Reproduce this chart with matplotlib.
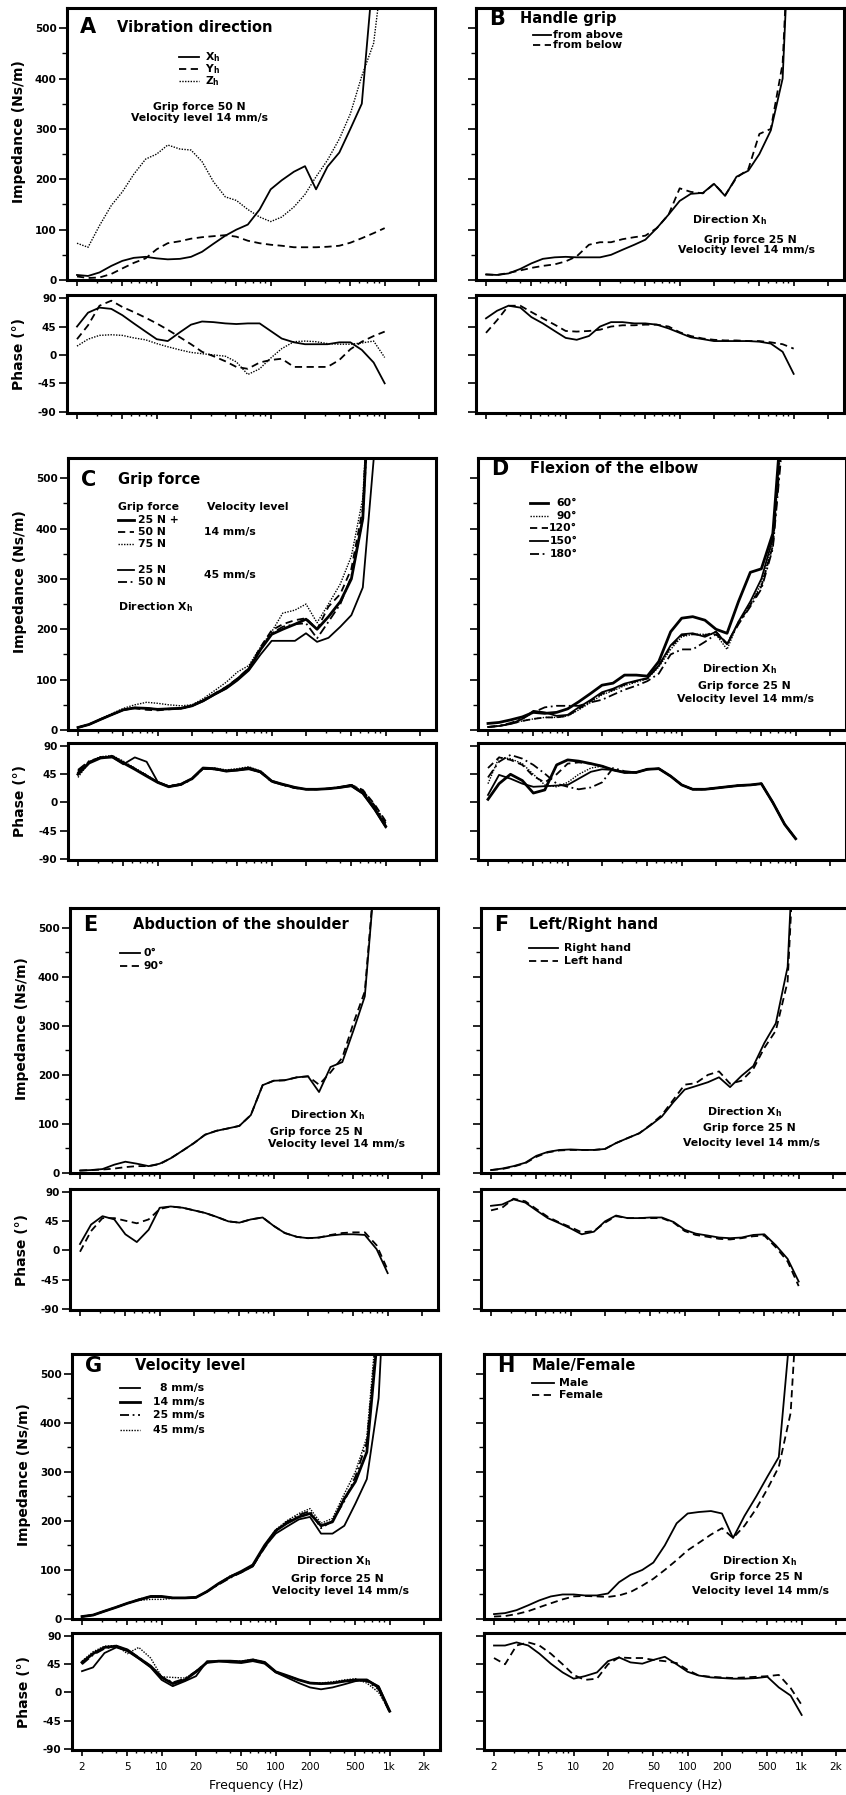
import numpy as np
import matplotlib
matplotlib.use('Agg')
import matplotlib.pyplot as plt
from matplotlib.ticker import FixedLocator, NullFormatter

plt.rcParams['font.family'] = ['DejaVu Sans']
plt.rcParams['mathtext.fontset'] = 'custom'
plt.rcParams['mathtext.rm'] = 'DejaVu Sans:bold'
plt.rcParams['mathtext.default'] = 'rm'

# third-octave frequencies (Hz)
freq = [2, 2.5, 3.15, 4, 5, 6.3, 8, 10, 12.5, 16, 20, 25, 31.5, 40, 50, 63,
        80, 100, 125, 160, 200, 250, 315, 400, 500, 630, 800, 1000]

# A  vibration direction
a_imp_x = [10, 8, 15, 28, 38, 44, 46, 43, 41, 42, 46, 56, 72, 88, 100, 110, 140, 180, 198, 215, 226, 180, 225, 253, 300, 350, 620, 1200]
a_imp_y = [7, 4, 5, 12, 23, 34, 43, 61, 73, 77, 82, 85, 87, 89, 86, 78, 73, 70, 68, 65, 65, 65, 66, 68, 74, 83, 93, 103]
a_imp_z = [73, 65, 108, 148, 175, 210, 240, 250, 268, 260, 258, 235, 195, 165, 158, 140, 125, 116, 125, 145, 170, 205, 238, 280, 330, 405, 470, 650]
a_ph_x = [45, 67, 75, 73, 63, 50, 37, 25, 22, 36, 48, 53, 52, 50, 49, 50, 50, 38, 26, 20, 17, 17, 17, 20, 20, 8, -12, -45]
a_ph_y = [25, 47, 78, 86, 76, 68, 59, 50, 40, 28, 17, 5, -2, -10, -19, -22, -12, -8, -6, -19, -19, -19, -19, -8, 9, 21, 30, 37]
a_ph_z = [14, 25, 31, 32, 31, 27, 24, 18, 13, 8, 4, 2, 0, -2, -11, -31, -22, -5, 10, 21, 22, 21, 18, 17, 17, 19, 22, -4]

# B  handle grip
b_imp_above = [11, 10, 13, 22, 33, 42, 45, 46, 45, 45, 45, 50, 60, 70, 80, 103, 130, 157, 171, 173, 191, 167, 205, 217, 250, 297, 400, 900]
b_imp_below = [11, 10, 14, 19, 24, 28, 31, 37, 47, 70, 75, 75, 81, 85, 88, 103, 130, 182, 175, 172, 191, 168, 203, 220, 290, 300, 430, 900]
b_ph_above = [58, 70, 78, 75, 60, 50, 38, 27, 24, 30, 45, 52, 52, 50, 50, 48, 42, 35, 28, 25, 22, 22, 22, 22, 21, 18, 5, -30]
b_ph_below = [35, 55, 78, 78, 68, 58, 48, 38, 37, 38, 40, 45, 47, 47, 48, 48, 45, 36, 30, 26, 24, 23, 23, 22, 22, 20, 17, 10]

# C  grip force
c_imp_25 = [5, 11, 21, 31, 40, 44, 43, 41, 42, 43, 48, 58, 71, 84, 101, 121, 160, 190, 200, 210, 220, 200, 225, 255, 300, 420, 900, 1400]
c_imp_50 = [5, 11, 21, 31, 40, 43, 40, 39, 41, 43, 48, 58, 72, 86, 102, 123, 165, 198, 210, 218, 222, 200, 245, 270, 320, 440, 900, 1400]
c_imp_75 = [5, 11, 22, 33, 43, 50, 55, 53, 50, 48, 50, 62, 78, 95, 115, 128, 165, 195, 232, 238, 250, 213, 250, 290, 345, 460, 900, 1400]
c_imp_25b = [5, 11, 21, 31, 40, 44, 43, 41, 42, 43, 48, 57, 70, 82, 98, 118, 150, 177, 177, 177, 192, 175, 183, 205, 228, 283, 560, 1000]
c_imp_50b = [5, 11, 21, 31, 40, 44, 43, 41, 42, 43, 48, 58, 71, 84, 101, 121, 160, 192, 205, 210, 212, 182, 215, 250, 305, 420, 850, 1400]
c_ph_25 = [45, 63, 71, 73, 63, 53, 42, 32, 25, 29, 38, 55, 54, 50, 52, 55, 49, 34, 29, 24, 21, 21, 22, 24, 27, 15, -10, -38]
c_ph_50 = [50, 65, 72, 74, 64, 54, 43, 32, 26, 29, 38, 54, 53, 51, 52, 54, 48, 34, 28, 23, 21, 21, 22, 25, 28, 20, -3, -30]
c_ph_75 = [40, 64, 73, 75, 66, 55, 44, 33, 26, 30, 38, 54, 55, 52, 54, 57, 50, 35, 29, 24, 21, 21, 22, 24, 27, 18, -5, -35]
c_ph_25b = [48, 64, 72, 72, 61, 72, 65, 33, 26, 29, 38, 54, 53, 50, 51, 53, 48, 34, 29, 24, 21, 21, 22, 24, 26, 14, -12, -40]
c_ph_50b = [52, 66, 72, 74, 64, 54, 43, 32, 25, 28, 37, 54, 53, 50, 52, 55, 48, 33, 28, 23, 21, 21, 22, 25, 28, 19, -5, -33]

# D  flexion of the elbow
d_imp_60 = [13, 15, 20, 26, 35, 33, 35, 42, 56, 73, 89, 93, 109, 109, 107, 136, 195, 222, 225, 218, 200, 192, 255, 313, 320, 390, 700, 1300]
d_imp_90 = [6, 8, 12, 18, 22, 25, 25, 28, 40, 55, 70, 78, 88, 95, 102, 125, 160, 185, 190, 190, 190, 160, 215, 250, 290, 370, 650, 1200]
d_imp_120 = [6, 8, 12, 18, 22, 25, 25, 28, 42, 58, 72, 80, 90, 97, 102, 128, 165, 188, 190, 188, 195, 172, 212, 248, 285, 365, 640, 1200]
d_imp_150 = [6, 8, 12, 22, 38, 35, 28, 30, 45, 60, 75, 82, 92, 98, 103, 128, 168, 190, 192, 185, 195, 170, 215, 255, 300, 380, 680, 1200]
d_imp_180 = [6, 8, 14, 22, 35, 45, 48, 48, 48, 55, 60, 70, 80, 88, 97, 112, 150, 160, 160, 175, 190, 170, 210, 245, 280, 360, 620, 1200]
d_ph_60 = [5, 30, 45, 35, 15, 20, 60, 68, 66, 62, 58, 52, 48, 48, 53, 54, 42, 28, 21, 21, 23, 25, 27, 28, 30, 0, -35, -58]
d_ph_90 = [30, 72, 70, 62, 45, 28, 25, 32, 45, 55, 58, 52, 48, 48, 53, 54, 42, 28, 21, 21, 23, 25, 27, 28, 30, 0, -35, -58]
d_ph_120 = [55, 72, 68, 60, 42, 32, 45, 62, 64, 62, 58, 52, 48, 48, 53, 54, 42, 28, 21, 21, 23, 25, 27, 28, 30, 0, -35, -58]
d_ph_150 = [12, 44, 38, 30, 25, 26, 27, 28, 38, 49, 53, 52, 48, 48, 53, 54, 42, 28, 21, 21, 23, 25, 27, 28, 30, 0, -35, -58]
d_ph_180 = [40, 65, 76, 70, 60, 46, 30, 25, 21, 24, 32, 55, 50, 48, 53, 54, 42, 28, 21, 21, 23, 25, 27, 28, 30, 0, -35, -58]

# E  abduction of the shoulder
e_imp_0 = [5, 6, 8, 17, 23, 19, 14, 19, 30, 46, 61, 78, 86, 91, 96, 118, 179, 188, 189, 195, 197, 165, 216, 226, 290, 360, 650, 1200]
e_imp_90 = [5, 6, 7, 9, 12, 14, 14, 18, 30, 46, 61, 78, 86, 91, 96, 118, 179, 188, 189, 195, 197, 180, 205, 235, 305, 370, 660, 1200]
e_ph_0 = [10, 40, 53, 48, 25, 13, 32, 66, 68, 66, 62, 58, 52, 45, 43, 48, 51, 38, 27, 21, 19, 20, 23, 25, 25, 24, 2, -35]
e_ph_90 = [-2, 30, 50, 50, 46, 42, 48, 64, 68, 66, 62, 58, 52, 45, 43, 48, 51, 38, 27, 21, 19, 20, 24, 27, 28, 28, 8, -30]

# F  left/right hand
f_imp_r = [6, 9, 14, 21, 35, 43, 47, 48, 47, 47, 49, 61, 71, 81, 97, 115, 145, 170, 177, 185, 195, 175, 198, 218, 265, 305, 420, 900]
f_imp_l = [6, 8, 13, 20, 33, 42, 46, 47, 47, 47, 49, 61, 71, 81, 98, 118, 150, 180, 183, 200, 207, 182, 188, 212, 255, 290, 390, 850]
f_ph_r = [69, 71, 79, 74, 62, 50, 42, 34, 25, 29, 45, 54, 50, 50, 51, 51, 44, 32, 26, 23, 20, 19, 20, 24, 25, 8, -13, -48]
f_ph_l = [62, 66, 80, 76, 64, 52, 43, 36, 28, 30, 43, 53, 50, 50, 50, 50, 43, 30, 24, 21, 18, 17, 19, 22, 23, 5, -17, -55]

# G  velocity level
g_imp_8 = [5, 8, 16, 24, 32, 39, 45, 45, 43, 43, 44, 56, 72, 86, 95, 107, 147, 174, 188, 203, 208, 174, 174, 190, 235, 285, 450, 900]
g_imp_14 = [5, 8, 16, 24, 32, 39, 46, 46, 43, 43, 44, 56, 72, 86, 97, 110, 150, 180, 195, 208, 215, 190, 198, 245, 280, 340, 600, 1200]
g_imp_25 = [5, 8, 16, 24, 32, 40, 46, 45, 43, 43, 44, 56, 70, 84, 95, 108, 145, 178, 198, 212, 220, 185, 200, 240, 290, 360, 620, 1200]
g_imp_45 = [5, 8, 16, 24, 32, 38, 40, 40, 42, 43, 44, 56, 72, 88, 97, 110, 150, 182, 200, 215, 225, 195, 205, 255, 300, 370, 650, 1200]
g_ph_8 = [34, 40, 63, 72, 66, 54, 40, 20, 10, 18, 26, 50, 50, 48, 47, 50, 46, 32, 24, 15, 8, 5, 8, 13, 18, 20, 10, -30]
g_ph_14 = [48, 62, 72, 74, 68, 55, 42, 24, 14, 20, 33, 48, 50, 50, 49, 52, 48, 33, 27, 20, 15, 14, 15, 18, 20, 20, 8, -30]
g_ph_25 = [45, 60, 70, 74, 68, 56, 42, 25, 16, 22, 34, 48, 50, 50, 49, 52, 48, 33, 27, 20, 15, 14, 15, 18, 20, 18, 5, -32]
g_ph_45 = [50, 65, 74, 75, 62, 72, 55, 25, 24, 23, 32, 48, 50, 50, 50, 53, 48, 33, 27, 20, 15, 15, 17, 20, 22, 15, 0, -30]

# H  male/female
h_imp_m = [10, 12, 18, 28, 38, 46, 50, 50, 48, 48, 52, 75, 90, 100, 115, 150, 195, 215, 218, 220, 215, 165, 210, 250, 290, 330, 600, 1200]
h_imp_f = [5, 6, 10, 16, 24, 32, 40, 46, 47, 46, 45, 48, 55, 68, 82, 100, 120, 140, 155, 172, 185, 165, 190, 225, 265, 310, 420, 800]
h_ph_m = [75, 75, 80, 75, 62, 46, 32, 22, 26, 32, 50, 56, 48, 46, 52, 57, 45, 33, 27, 24, 23, 22, 22, 23, 25, 8, -5, -36]
h_ph_f = [55, 45, 75, 80, 75, 62, 45, 28, 20, 22, 45, 56, 55, 55, 52, 50, 47, 36, 27, 25, 24, 23, 24, 25, 26, 28, 7, -20]

xticks = [2, 5, 10, 20, 50, 100, 200, 500, 1000, 2000]
xticklabels = ['2', '5', '10', '20', '50', '100', '200', '500', '1k', '2k']

SOLID = dict(ls='-', lw=1.3)
THICK = dict(ls='-', lw=2.0)
DASH = dict(ls=(0, (4, 2.5)), lw=1.3)
DOT = dict(ls=(0, (1, 1)), lw=1.0)
DASHDOT = dict(ls=(0, (5, 2, 1, 2)), lw=1.3)

W, H = 846, 1795
AW = 368
# impedance top, impedance height, phase top, phase height (pixels)
rows = [(8, 272, 295, 118), (458, 272, 743, 117), (908, 265, 1189, 121), (1354, 265, 1633, 117)]
lefts = [(67, 476), (68, 478), (70, 481), (72, 484)]
xlim = (2 * 10 ** (-10 / 114), 2 * 10 ** ((AW - 10) / 114))

fig = plt.figure(figsize=(W / 100, H / 100), dpi=100)


def style_axis(a):
    a.set_xscale('log')
    a.set_xlim(xlim)
    a.xaxis.set_major_locator(FixedLocator(xticks))
    minor = [m * 10 ** e for e in range(0, 4) for m in range(1, 10)]
    a.xaxis.set_minor_locator(FixedLocator(minor))
    a.xaxis.set_minor_formatter(NullFormatter())
    a.tick_params(which='major', direction='out', length=4, width=1.2, top=False, right=False)
    a.tick_params(which='minor', direction='out', length=2.5, width=1.0, top=False, right=False)
    a.tick_params(axis='y', which='major', length=6, labelsize=7.5, pad=1.5)
    a.tick_params(axis='y', which='minor', length=3.5)
    for s in a.spines.values():
        s.set_linewidth(2.2)


def make_pair(row, col):
    x0 = lefts[row][col]
    top, h, ptop, ph = rows[row]
    ax = fig.add_axes([x0 / W, 1 - (top + h) / H, AW / W, h / H])
    axp = fig.add_axes([x0 / W, 1 - (ptop + ph) / H, AW / W, ph / H])
    ax.set_ylim(0, 540)
    ax.set_yticks(range(0, 501, 100))
    ax.set_yticks(range(50, 540, 100), minor=True)
    axp.set_ylim(-92, 95)
    axp.set_yticks([-90, -45, 0, 45, 90])
    style_axis(ax)
    style_axis(axp)
    ax.set_xticklabels([])
    if row == 3:
        axp.set_xticklabels(xticklabels, fontsize=7.5)
        axp.tick_params(axis='x', pad=5)
    else:
        axp.set_xticklabels([])
    if col == 0:
        ax.set_yticklabels([str(v) for v in range(0, 501, 100)], fontweight='bold')
        axp.set_yticklabels(['-90', '-45', '0', '45', '90'], fontweight='bold')
        ax.set_ylabel('Impedance (Ns/m)', fontsize=10, fontweight='bold')
        ax.yaxis.set_label_coords(-0.111, 0.545)
        axp.set_ylabel('Phase (°)', fontsize=10, fontweight='bold')
        axp.yaxis.set_label_coords(-0.111, 0.5)
    else:
        ax.set_yticklabels([])
        axp.set_yticklabels([])
    return ax, axp


def draw(ax, axp, curves):
    for imp, ph, st in curves:
        ax.plot(freq, imp, color='k', **st)
        axp.plot(freq, ph, color='k', **st)


def txt(ax, x, y, s, size=7.8, ha='left', weight='bold'):
    ax.text(x, y, s, transform=ax.transAxes, fontsize=size, ha=ha, va='center',
            fontweight=weight)


def head(ax, y, letter, title, xl=0.035, xt=0.135):
    txt(ax, xl, y, letter, size=15)
    txt(ax, xt, y, title, size=10.5)


def leg(ax, x0, x1, y, st):
    ax.plot([x0, x1], [y, y], transform=ax.transAxes, color='k', **st)


def std_note(ax, xs, ys):
    txt(ax, xs[0], ys[0], 'Direction X$_h$', ha='center')
    txt(ax, xs[1], ys[1], 'Grip force 25 N', ha='center')
    txt(ax, xs[2], ys[2], 'Velocity level 14 mm/s', ha='center')


# A
ax, axp = make_pair(0, 0)
draw(ax, axp, [(a_imp_x, a_ph_x, SOLID), (a_imp_y, a_ph_y, DASH), (a_imp_z, a_ph_z, DOT)])
head(ax, 0.93, 'A', 'Vibration direction')
for y, st, s in [(0.82, SOLID, 'X$_h$'), (0.775, DASH, 'Y$_h$'), (0.73, DOT, 'Z$_h$')]:
    leg(ax, 0.305, 0.36, y, st)
    txt(ax, 0.375, y, s)
txt(ax, 0.36, 0.636, 'Grip force 50 N', ha='center')
txt(ax, 0.36, 0.595, 'Velocity level 14 mm/s', ha='center')

# B
ax, axp = make_pair(0, 1)
draw(ax, axp, [(b_imp_above, b_ph_above, SOLID), (b_imp_below, b_ph_below, DASH)])
head(ax, 0.96, 'B', 'Handle grip', xt=0.12)
for y, st, s in [(0.90, SOLID, 'from above'), (0.864, DASH, 'from below')]:
    leg(ax, 0.155, 0.205, y, st)
    txt(ax, 0.21, y, s)
std_note(ax, (0.69, 0.745, 0.735), (0.22, 0.147, 0.11))

# C
ax, axp = make_pair(1, 0)
draw(ax, axp, [(c_imp_25, c_ph_25, THICK), (c_imp_50, c_ph_50, DASH), (c_imp_75, c_ph_75, DOT),
               (c_imp_25b, c_ph_25b, SOLID), (c_imp_50b, c_ph_50b, DASHDOT)])
head(ax, 0.92, 'C', 'Grip force')
txt(ax, 0.136, 0.82, 'Grip force')
txt(ax, 0.378, 0.82, 'Velocity level')
for y, st, s in [(0.772, THICK, '25 N +'), (0.728, DASH, '50 N'), (0.684, DOT, '75 N'),
                 (0.588, SOLID, '25 N'), (0.544, DASHDOT, '50 N')]:
    leg(ax, 0.136, 0.178, y, st)
    txt(ax, 0.19, y, s)
txt(ax, 0.37, 0.728, '14 mm/s')
txt(ax, 0.37, 0.57, '45 mm/s')
txt(ax, 0.136, 0.45, 'Direction X$_h$')

# D
ax, axp = make_pair(1, 1)
draw(ax, axp, [(d_imp_60, d_ph_60, THICK), (d_imp_90, d_ph_90, DOT), (d_imp_120, d_ph_120, DASH),
               (d_imp_150, d_ph_150, SOLID), (d_imp_180, d_ph_180, DASHDOT)])
head(ax, 0.96, 'D', 'Flexion of the elbow', xt=0.14)
for y, st, s in [(0.835, THICK, '60°'), (0.787, DOT, '90°'), (0.743, DASH, '120°'),
                 (0.695, SOLID, '150°'), (0.647, DASHDOT, '180°')]:
    leg(ax, 0.14, 0.19, y, st)
    txt(ax, 0.27, y, s, ha='right')
std_note(ax, (0.71, 0.725, 0.728), (0.224, 0.16, 0.114))

# E
ax, axp = make_pair(2, 0)
draw(ax, axp, [(e_imp_0, e_ph_0, SOLID), (e_imp_90, e_ph_90, DASH)])
head(ax, 0.936, 'E', 'Abduction of the shoulder', xt=0.17)
for y, st, s in [(0.83, SOLID, '0°'), (0.78, DASH, '90°')]:
    leg(ax, 0.136, 0.19, y, st)
    txt(ax, 0.2, y, s)
std_note(ax, (0.70, 0.67, 0.725), (0.22, 0.155, 0.11))

# F
ax, axp = make_pair(2, 1)
draw(ax, axp, [(f_imp_r, f_ph_r, SOLID), (f_imp_l, f_ph_l, DASH)])
head(ax, 0.936, 'F', 'Left/Right hand', xt=0.13)
for y, st, s in [(0.85, SOLID, 'Right hand'), (0.80, DASH, 'Left hand')]:
    leg(ax, 0.13, 0.21, y, st)
    txt(ax, 0.225, y, s)
std_note(ax, (0.715, 0.73, 0.735), (0.23, 0.17, 0.113))

# G
ax, axp = make_pair(3, 0)
draw(ax, axp, [(g_imp_8, g_ph_8, SOLID), (g_imp_14, g_ph_14, THICK), (g_imp_25, g_ph_25, DASHDOT),
               (g_imp_45, g_ph_45, DOT)])
head(ax, 0.955, 'G', 'Velocity level', xt=0.17)
for y, st, s in [(0.87, SOLID, '8 mm/s'), (0.82, THICK, '14 mm/s'), (0.77, DASHDOT, '25 mm/s'),
                 (0.715, DOT, '45 mm/s')]:
    leg(ax, 0.13, 0.185, y, st)
    txt(ax, 0.36, y, s, ha='right')
std_note(ax, (0.71, 0.72, 0.73), (0.22, 0.15, 0.106))

# H
ax, axp = make_pair(3, 1)
draw(ax, axp, [(h_imp_m, h_ph_m, SOLID), (h_imp_f, h_ph_f, DASH)])
head(ax, 0.955, 'H', 'Male/Female', xt=0.13)
for y, st, s in [(0.89, SOLID, 'Male'), (0.845, DASH, 'Female')]:
    leg(ax, 0.13, 0.19, y, st)
    txt(ax, 0.205, y, s)
std_note(ax, (0.75, 0.74, 0.75), (0.22, 0.16, 0.105))

fig.text(256 / W, 1 - 1785 / H, 'Frequency (Hz)', ha='center', va='center', fontsize=9)
fig.text(675 / W, 1 - 1785 / H, 'Frequency (Hz)', ha='center', va='center', fontsize=9)

fig.savefig('out.png', dpi=100)
